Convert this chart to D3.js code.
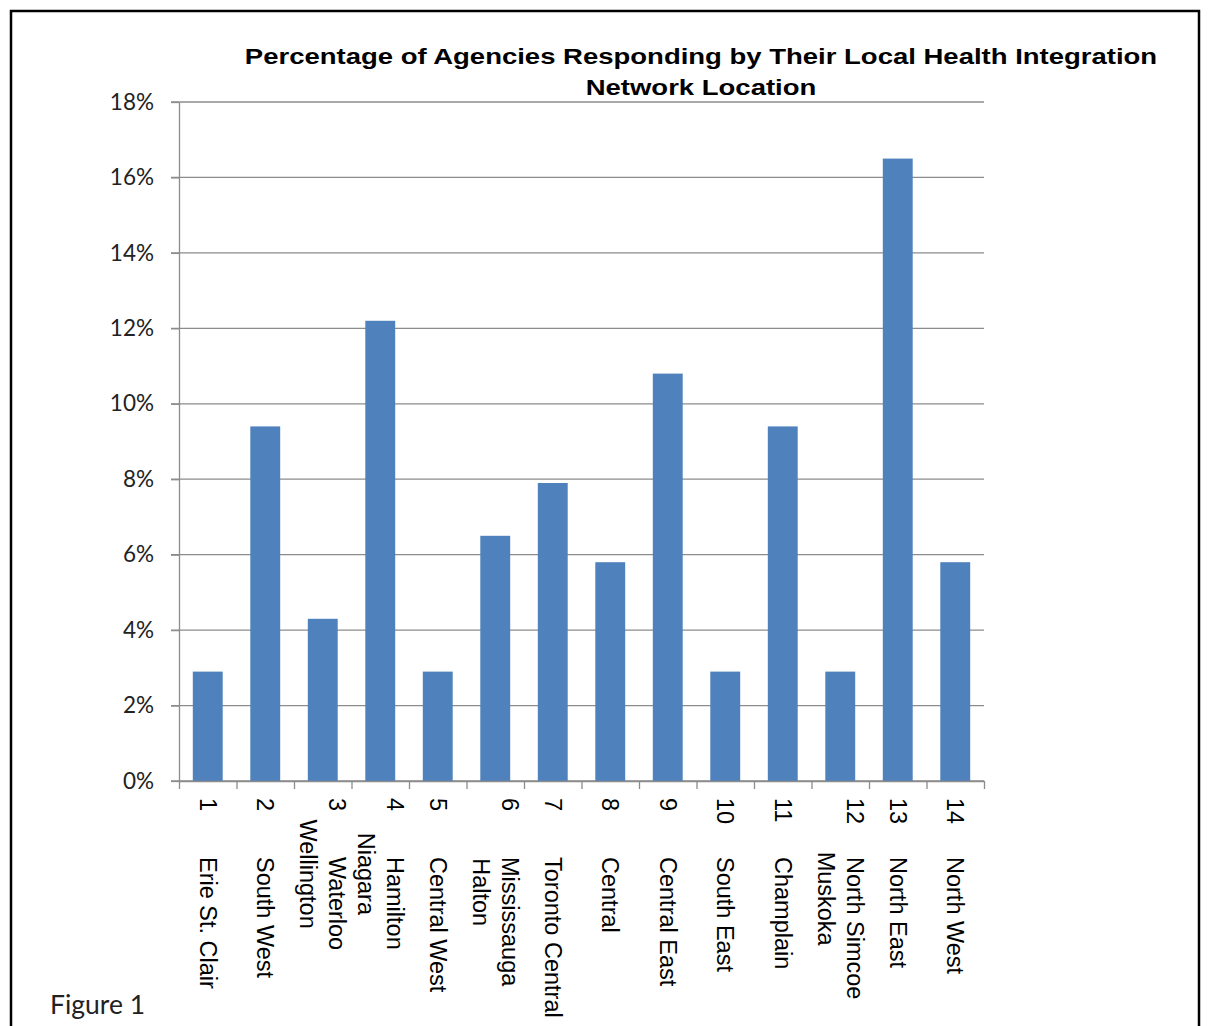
<!DOCTYPE html>
<html>
<head>
<meta charset="utf-8">
<script src="https://cdn.jsdelivr.net/npm/d3@7"></script>
<style>
  body { margin: 0; background: #fff; }
</style>
</head>
<body>
<div id="chart"></div>
<script>
// LHIN numbers, names (split where the label wraps) and share of agencies
var lhinNums = ["1","2","3","4","5","6","7","8","9","10","11","12","13","14"];
var lhinNames = [
  ["Erie St. Clair"], ["South West"], ["Waterloo","Wellington"], ["Hamilton","Niagara"],
  ["Central West"], ["Mississauga","Halton"], ["Toronto Central"], ["Central"],
  ["Central East"], ["South East"], ["Champlain"], ["North Simcoe","Muskoka"],
  ["North East"], ["North West"]
];
var pctValues = [2.9, 9.4, 4.3, 12.2, 2.9, 6.5, 7.9, 5.8, 10.8, 2.9, 9.4, 2.9, 16.5, 5.8];
var yTicks = [0, 2, 4, 6, 8, 10, 12, 14, 16, 18];
var titleLines = ["Percentage of Agencies Responding by Their Local Health Integration", "Network Location"];

var W = 1209, H = 1026;
var plot = {left: 179, right: 984, top: 102, bottom: 781};

var svg = d3.select("#chart").append("svg")
  .attr("width", W)
  .attr("height", H);

// outer frame
svg.append("rect")
  .attr("x", 11).attr("y", 11)
  .attr("width", 1188).attr("height", 1040)
  .style("fill", "none")
  .style("stroke", "#000")
  .style("stroke-width", 2.5);

var x = d3.scaleBand()
  .domain(lhinNums)
  .range([plot.left, plot.right])
  .paddingInner(0.48)
  .paddingOuter(0.24);

var y = d3.scaleLinear()
  .domain([0, 18])
  .range([plot.bottom, plot.top]);

// gridlines
svg.append("g")
  .selectAll("line")
  .data(yTicks)
  .enter()
  .append("line")
    .attr("x1", plot.left - 8)
    .attr("x2", plot.right)
    .attr("y1", function(d) { return y(d); })
    .attr("y2", function(d) { return y(d); })
    .style("stroke", "#8c8c8c")
    .style("stroke-width", 1.3);

// y axis
var yAxis = svg.append("g")
  .attr("transform", "translate(" + plot.left + ",0)")
  .call(d3.axisLeft(y).tickValues(yTicks).tickSize(8).tickSizeOuter(0)
    .tickFormat(function(d) { return d + "%"; }));
yAxis.selectAll("line, path").style("stroke", "#8c8c8c").style("stroke-width", 1.3);
yAxis.selectAll("text")
  .attr("x", -25)
  .style("font-family", "Lato, 'Open Sans', sans-serif")
  .style("font-size", "22.5px")
  .style("fill", "#222");

// bars
svg.append("g")
  .selectAll("rect")
  .data(pctValues)
  .enter()
  .append("rect")
    .attr("x", function(d, i) { return x(lhinNums[i]); })
    .attr("width", x.bandwidth())
    .attr("y", function(d) { return y(d); })
    .attr("height", function(d) { return y(0) - y(d); })
    .style("fill", "#4f81bd");

// x axis with ticks on category boundaries
var xb = d3.scaleLinear().domain([0, lhinNums.length]).range([plot.left, plot.right]);
var xAxis = svg.append("g")
  .attr("transform", "translate(0," + plot.bottom + ")")
  .call(d3.axisBottom(xb).tickValues(d3.range(lhinNums.length + 1)).tickSize(8).tickSizeOuter(0)
    .tickFormat(""));
xAxis.selectAll("line, path").style("stroke", "#8c8c8c").style("stroke-width", 1.3);

// rotated category labels
var lineGap = 29, nameOffset = 59;
var labels = svg.append("g")
  .selectAll("g")
  .data(lhinNums)
  .enter()
  .append("g")
    .attr("transform", function(d) {
      return "translate(" + (x(d) + x.bandwidth() / 2) + "," + 798 + ") rotate(90)";
    })
    .style("font-family", "'Liberation Sans', Arial, sans-serif")
    .style("font-size", "23.5px")
    .style("fill", "#000");

labels.each(function(d, i) {
  var g = d3.select(this);
  var names = lhinNames[i];
  var b1 = 8 - (lineGap / 2) * (names.length - 1);
  g.append("text").attr("x", 0).attr("y", b1).text(d);
  var first = g.append("text").attr("x", nameOffset).attr("y", b1).text(names[0]);
  var lineLen = nameOffset + first.node().getComputedTextLength();
  for (var k = 1; k < names.length; k++) {
    g.append("text")
      .attr("x", lineLen / 2)
      .attr("y", b1 + lineGap * k)
      .attr("text-anchor", "middle")
      .text(names[k]);
  }
});

// title (the source is drawn wider than its height suggests)
svg.append("g")
  .selectAll("text")
  .data(titleLines)
  .enter()
  .append("text")
    .attr("transform", function(d, i) {
      return "translate(701," + (64 + i * 31) + ") scale(1.25,1)";
    })
    .attr("text-anchor", "middle")
    .style("font-family", "'Liberation Sans', Arial, sans-serif")
    .style("font-weight", "bold")
    .style("font-size", "22px")
    .text(function(d) { return d; });

svg.append("text")
  .attr("x", 50)
  .attr("y", 1014)
  .style("font-family", "Lato, 'Open Sans', sans-serif")
  .style("font-size", "26.5px")
  .style("fill", "#222")
  .text("Figure 1");
</script>
</body>
</html>
